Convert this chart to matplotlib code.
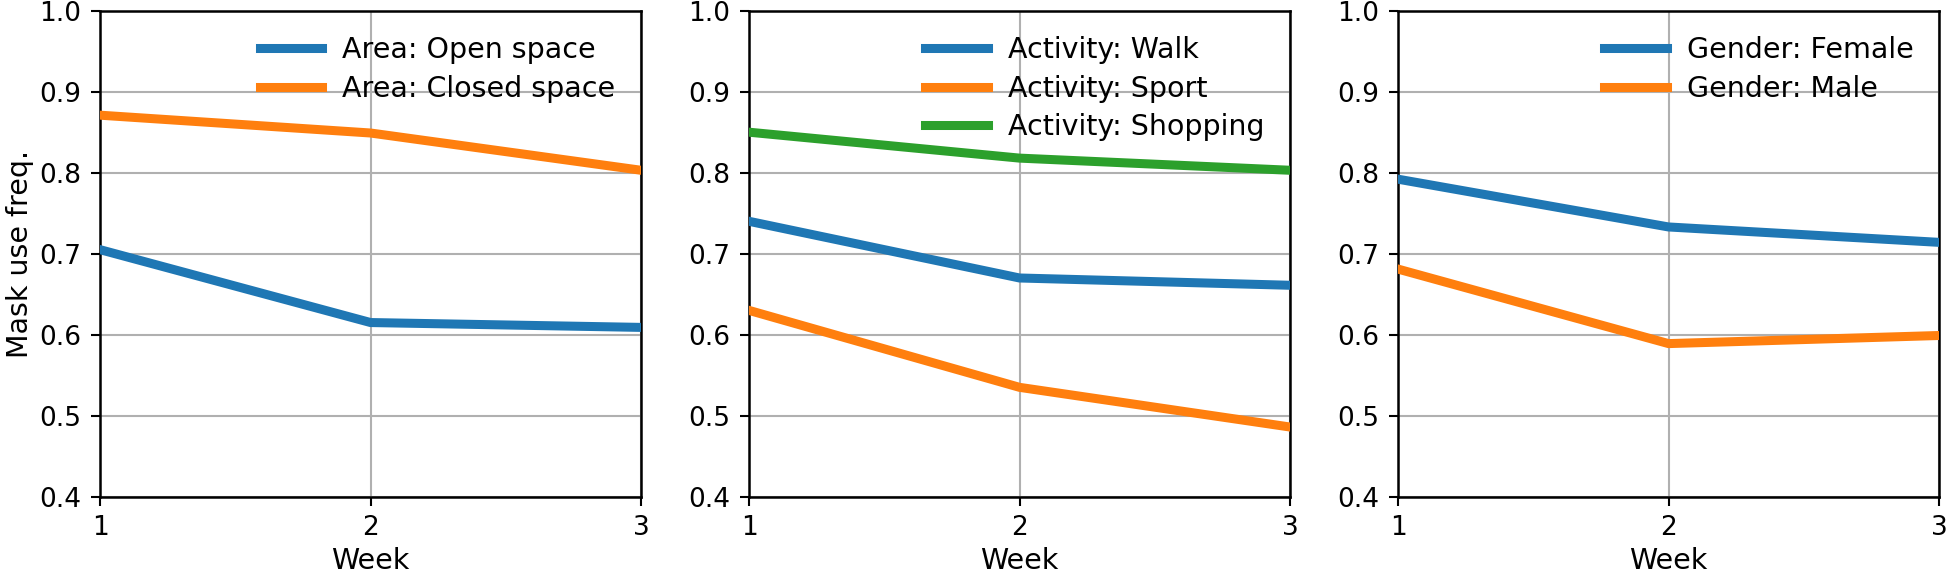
"""
Mask use frequency by week, split by area / activity / gender.
"""

import matplotlib.pyplot as plt

weeks = [1, 2, 3]

area_labels = ["Area: Open space", "Area: Closed space"]
area_open = [0.705, 0.615, 0.609]
area_closed = [0.871, 0.849, 0.803]

activity_labels = ["Activity: Walk", "Activity: Sport", "Activity: Shopping"]
act_walk = [0.740, 0.670, 0.661]
act_sport = [0.630, 0.535, 0.486]
act_shopping = [0.850, 0.818, 0.803]

gender_labels = ["Gender: Female", "Gender: Male"]
gen_female = [0.792, 0.733, 0.714]
gen_male = [0.681, 0.589, 0.599]

yticks = [0.4, 0.5, 0.6, 0.7, 0.8, 0.9, 1.0]

COLORS = ["#1f77b4", "#ff7f0e", "#2ca02c"]
FS_TICK = 19
FS_TEXT = 20.5

panels = [
    (area_labels, [area_open, area_closed]),
    (activity_labels, [act_walk, act_sport, act_shopping]),
    (gender_labels, [gen_female, gen_male]),
]

fig = plt.figure(figsize=(19.46, 5.75), dpi=100)

# axes positions (figure fraction)
lefts = [0.0514, 0.3849, 0.7184]
width = 0.2780
bottom, top = 0.1362, 0.9814

for i, (labels, series) in enumerate(panels):
    ax = fig.add_axes([lefts[i], bottom, width, top - bottom])
    for j, (lab, vals) in enumerate(zip(labels, series)):
        ax.plot(weeks, vals, color=COLORS[j], lw=6.5, label=lab, zorder=3)
    ax.set_xlim(1, 3)
    ax.set_ylim(0.4, 1.0)
    ax.set_xticks(weeks)
    ax.set_yticks(yticks)
    ax.tick_params(labelsize=FS_TICK, length=6.5, width=1.5, pad=7)
    ax.grid(True, color="#b0b0b0", lw=1.5)
    for s in ax.spines.values():
        s.set_linewidth(1.8)
    ax.set_xlabel("Week", fontsize=FS_TEXT)
    if i == 0:
        ax.set_ylabel("Mask use freq.", fontsize=FS_TEXT)
    ax.legend(loc="upper right", frameon=False, fontsize=FS_TEXT,
              handlelength=2.2, handletextpad=0.7, labelspacing=0.36)

fig.savefig("out.png", dpi=100)
